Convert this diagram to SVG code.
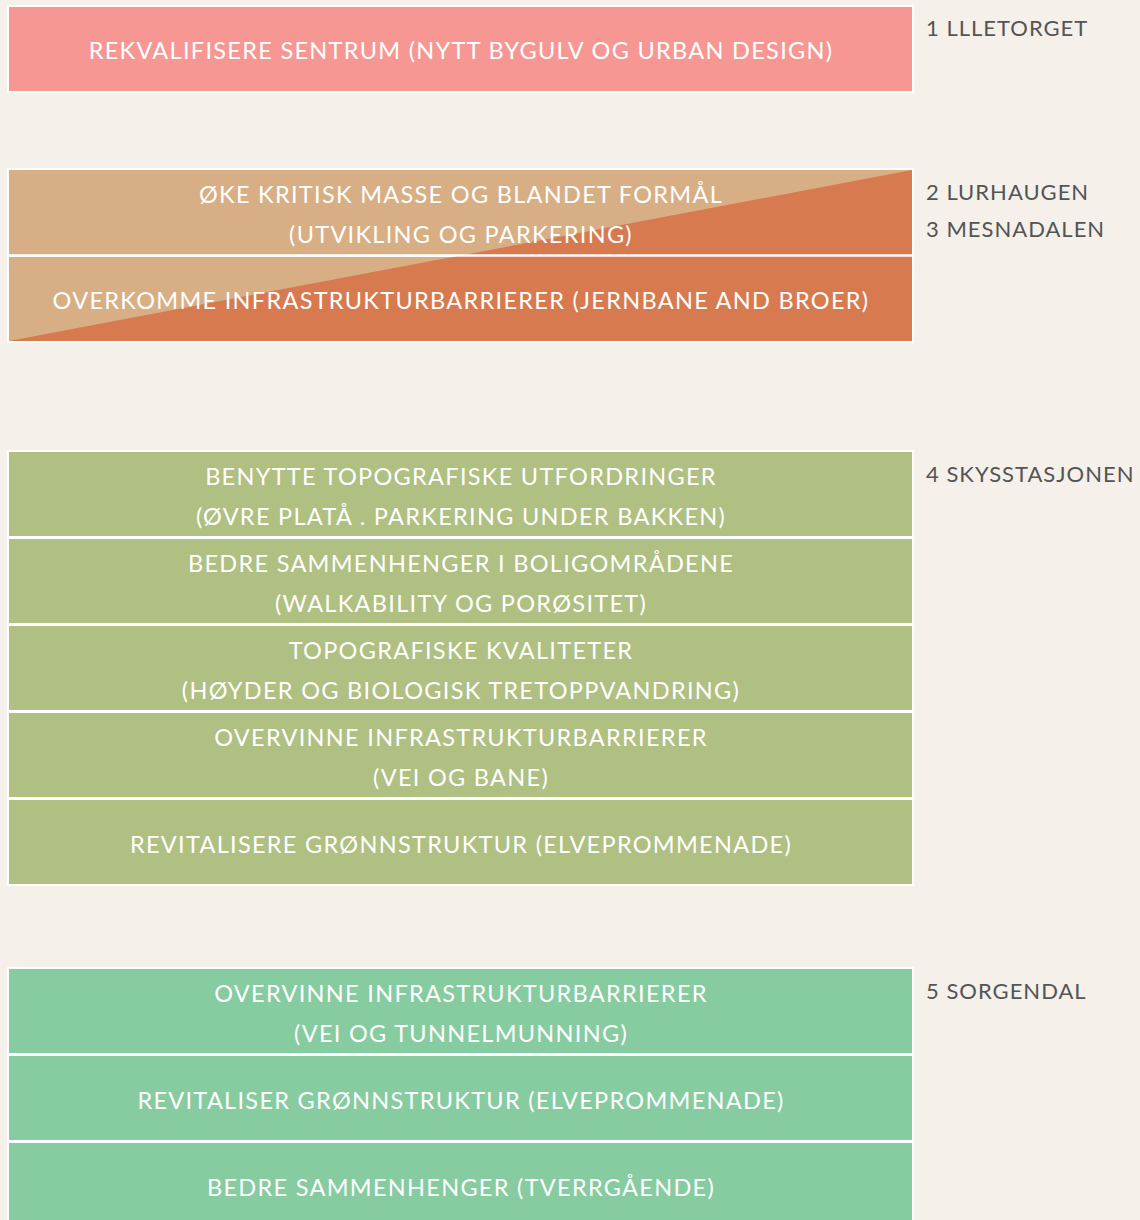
<svg xmlns="http://www.w3.org/2000/svg" width="1140" height="1220" viewBox="0 0 1140 1220">
<style>
.cell{stroke:#ffffff;stroke-width:2}
.pink{fill:#F69794}
.tan{fill:#D8AE84}
.org{fill:#D77A4F}
.grn{fill:#B0BF82}
.teal{fill:#86CCA0}
.t{font-family:Lato,"Liberation Sans",sans-serif;font-size:23.5px;letter-spacing:1.3px;fill:#ffffff;text-anchor:middle}
.lbl{font-family:Lato,"Liberation Sans",sans-serif;font-size:22px;letter-spacing:1px;fill:#545454}
</style>
<rect x="0" y="0" width="1140" height="1220" fill="#F5F0EA"/>
<g id="n1">
<rect class="cell pink" x="8" y="6" width="905" height="86"/>
<text class="t" x="461" y="59">REKVALIFISERE SENTRUM (NYTT BYGULV OG URBAN DESIGN)</text>
</g>
<g id="l1"><text class="lbl" x="926" y="35.5">1 LLLETORGET</text></g>
<g id="n2">
<rect class="cell tan" x="8" y="169" width="905" height="87"/>
<rect class="cell tan" x="8" y="256" width="905" height="86"/>
<polygon class="org" points="9,341 912,170 912,341"/>
<line x1="9" y1="255.5" x2="912" y2="255.5" stroke="#ffffff" stroke-width="2.5"/>
<text class="t" x="461" y="202.5">ØKE KRITISK MASSE OG BLANDET FORMÅL</text>
<text class="t" x="461" y="242.5">(UTVIKLING OG PARKERING)</text>
</g>
<g id="n3">
<text class="t" x="461" y="309">OVERKOMME INFRASTRUKTURBARRIERER (JERNBANE AND BROER)</text>
</g>
<g id="l2"><text class="lbl" x="926" y="199.5">2 LURHAUGEN</text><text class="lbl" x="926" y="237">3 MESNADALEN</text></g>
<g id="n4">
<rect class="cell grn" x="8" y="451" width="905" height="86"/>
<text class="t" x="461" y="484.5">BENYTTE TOPOGRAFISKE UTFORDRINGER</text>
<text class="t" x="461" y="524.5">(ØVRE PLATÅ . PARKERING UNDER BAKKEN)</text>
</g>
<g id="n5">
<rect class="cell grn" x="8" y="538" width="905" height="86"/>
<text class="t" x="461" y="571.5">BEDRE SAMMENHENGER I BOLIGOMRÅDENE</text>
<text class="t" x="461" y="611.5">(WALKABILITY OG PORØSITET)</text>
</g>
<g id="n6">
<rect class="cell grn" x="8" y="625" width="905" height="86"/>
<text class="t" x="461" y="658.5">TOPOGRAFISKE KVALITETER</text>
<text class="t" x="461" y="698.5">(HØYDER OG BIOLOGISK TRETOPPVANDRING)</text>
</g>
<g id="n7">
<rect class="cell grn" x="8" y="712" width="905" height="86"/>
<text class="t" x="461" y="745.5">OVERVINNE INFRASTRUKTURBARRIERER</text>
<text class="t" x="461" y="785.5">(VEI OG BANE)</text>
</g>
<g id="n8">
<rect class="cell grn" x="8" y="799" width="905" height="86"/>
<text class="t" x="461" y="852.5">REVITALISERE GRØNNSTRUKTUR (ELVEPROMMENADE)</text>
</g>
<g id="l4"><text class="lbl" x="926" y="481.5">4 SKYSSTASJONEN</text></g>
<g id="n9">
<rect class="cell teal" x="8" y="968" width="905" height="86"/>
<text class="t" x="461" y="1001.5">OVERVINNE INFRASTRUKTURBARRIERER</text>
<text class="t" x="461" y="1041.5">(VEI OG TUNNELMUNNING)</text>
</g>
<g id="n10">
<rect class="cell teal" x="8" y="1055" width="905" height="86"/>
<text class="t" x="461" y="1108.5">REVITALISER GRØNNSTRUKTUR (ELVEPROMMENADE)</text>
</g>
<g id="n11">
<rect class="cell teal" x="8" y="1142" width="905" height="86"/>
<text class="t" x="461" y="1195.5">BEDRE SAMMENHENGER (TVERRGÅENDE)</text>
</g>
<g id="l5"><text class="lbl" x="926" y="998.5">5 SORGENDAL</text></g>
<g id="connectors"></g>
</svg>
